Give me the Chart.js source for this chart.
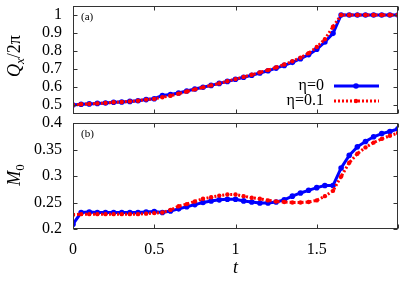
<!DOCTYPE html>
<html>
<head>
<meta charset="utf-8">
<script src="https://cdn.jsdelivr.net/npm/chart.js@4.4.1/dist/chart.umd.min.js"></script>
<style>
  html, body { margin: 0; padding: 0; background: #fff; }
  #wrap { position: relative; width: 407px; height: 285px; overflow: hidden; }
  canvas { position: absolute; left: 0; }
  #top { top: 0; }
  #bot { top: 115px; }
</style>
</head>
<body>
<div id="wrap">
  <canvas id="top" width="407" height="120"></canvas>
  <canvas id="bot" width="407" height="170"></canvas>
</div>
<script>
// time axis (t), one sample every 0.05
const tVals = [0, 0.05, 0.1, 0.15, 0.2, 0.25, 0.3, 0.35, 0.4, 0.45, 0.5, 0.55, 0.6, 0.65, 0.7,
  0.75, 0.8, 0.85, 0.9, 0.95, 1, 1.05, 1.1, 1.15, 1.2, 1.25, 1.3, 1.35, 1.4, 1.45, 1.5, 1.55,
  1.6, 1.65, 1.7, 1.75, 1.8, 1.85, 1.9, 1.95, 2];

// panel (a): Q_x / 2pi
const qEta0 = [0.500, 0.504, 0.506, 0.509, 0.511, 0.515, 0.517, 0.520, 0.524, 0.530, 0.535,
  0.553, 0.558, 0.567, 0.578, 0.589, 0.599, 0.609, 0.620, 0.631, 0.643, 0.654, 0.665, 0.678,
  0.690, 0.705, 0.720, 0.737, 0.757, 0.780, 0.810, 0.850, 0.898, 1, 1, 1, 1, 1, 1, 1, 1];
const qEta01 = [0.500, 0.504, 0.506, 0.509, 0.511, 0.515, 0.517, 0.520, 0.524, 0.530, 0.534,
  0.543, 0.551, 0.563, 0.575, 0.587, 0.598, 0.609, 0.620, 0.632, 0.644, 0.656, 0.668, 0.681,
  0.694, 0.709, 0.725, 0.743, 0.763, 0.788, 0.822, 0.865, 0.935, 1, 1, 1, 1, 1, 1, 1, 1];

// panel (b): M_0
const mEta0 = [0.209, 0.231, 0.232, 0.231, 0.231, 0.231, 0.231, 0.231, 0.231, 0.232, 0.233,
  0.231, 0.234, 0.238, 0.242, 0.246, 0.250, 0.253, 0.255, 0.256, 0.256, 0.253, 0.251, 0.249,
  0.249, 0.251, 0.255, 0.262, 0.268, 0.273, 0.278, 0.282, 0.282, 0.315, 0.339, 0.355, 0.365,
  0.374, 0.380, 0.384, 0.389];
const mEta01 = [0.227, 0.228, 0.228, 0.228, 0.228, 0.228, 0.228, 0.228, 0.228, 0.229, 0.230,
  0.231, 0.236, 0.243, 0.247, 0.252, 0.257, 0.260, 0.263, 0.265, 0.265, 0.262, 0.259, 0.257,
  0.254, 0.252, 0.251, 0.250, 0.250, 0.251, 0.254, 0.262, 0.272, 0.299, 0.325, 0.342, 0.354,
  0.363, 0.370, 0.376, 0.381];

const xTicks = [0, 0.5, 1, 1.5, 2];
const qTicks = [0.5, 0.6, 0.7, 0.8, 0.9, 1];
const mTicks = [0.2, 0.25, 0.3, 0.35, 0.4];
const seriesLabels = ['\u03b7=0', '\u03b7=0.1'];

const BLUE = '#0000ff';
const RED = '#ff0000';
const SERIF = '"Liberation Serif", "DejaVu Serif", serif';

Chart.defaults.font.family = SERIF;
Chart.defaults.font.size = 16;
Chart.defaults.color = '#000';

const toXY = vals => vals.map((v, i) => ({ x: tVals[i], y: v }));

function blueSet(vals) {
  return {
    label: seriesLabels[0], data: toXY(vals), order: 1,
    borderColor: BLUE, backgroundColor: BLUE, borderWidth: 3,
    pointRadius: 2.8, pointBorderWidth: 0, tension: 0
  };
}
function redSet(vals) {
  return {
    label: seriesLabels[1], data: toXY(vals), order: 0,
    borderColor: RED, backgroundColor: RED, borderWidth: 3, borderDash: [2, 2],
    pointRadius: 2.2, pointBorderWidth: 0, tension: 0
  };
}

// rotated multi-part text (italic symbol, subscript, plain)
function drawRotated(ctx, parts, cx, cy) {
  ctx.save();
  ctx.translate(cx, cy);
  ctx.rotate(-Math.PI / 2);
  let w = 0;
  parts.forEach(p => { ctx.font = p.font; w += ctx.measureText(p.text).width; });
  let x = -w / 2;
  ctx.textBaseline = 'alphabetic';
  ctx.fillStyle = '#000';
  parts.forEach(p => {
    ctx.font = p.font;
    ctx.fillText(p.text, x, p.dy || 0);
    x += ctx.measureText(p.text).width;
  });
  ctx.restore();
}

// gnuplot-style frame with inward ticks on all four sides, plus panel decorations
const framePlugin = {
  id: 'frame',
  afterDraw(chart, args, opts) {
    const { ctx, chartArea: a, scales } = chart;
    ctx.save();
    ctx.strokeStyle = '#333';
    ctx.lineWidth = 1;
    const L = Math.round(a.left) + 0.5, R = Math.round(a.right) - 0.5;
    const T = Math.round(a.top) + 0.5, B = Math.round(a.bottom) - 0.5;
    ctx.strokeRect(L, T, R - L, B - T);
    ctx.beginPath();
    xTicks.forEach(v => {
      const px = Math.round(scales.x.getPixelForValue(v)) + 0.5;
      ctx.moveTo(px, B); ctx.lineTo(px, B - 4);
      ctx.moveTo(px, T); ctx.lineTo(px, T + 4);
    });
    opts.yTicks.forEach(v => {
      const py = Math.round(scales.y.getPixelForValue(v)) + 0.5;
      ctx.moveTo(L, py); ctx.lineTo(L + 4, py);
      ctx.moveTo(R, py); ctx.lineTo(R - 4, py);
    });
    ctx.stroke();

    ctx.fillStyle = '#000';
    ctx.font = '11px ' + SERIF;
    ctx.textBaseline = 'middle';
    ctx.textAlign = 'left';
    ctx.fillText(opts.panel, a.left + 8, a.top + 11);

    drawRotated(ctx, opts.yTitle, opts.yTitleX, opts.yTitleY);

    if (opts.xTitle) {
      ctx.font = 'italic 18px ' + SERIF;
      ctx.textAlign = 'center';
      ctx.textBaseline = 'middle';
      ctx.fillText(opts.xTitle, scales.x.getPixelForValue(1), a.bottom + 39);
    }

    if (opts.legend) {
      const rows = [
        { label: seriesLabels[0], color: BLUE, dash: [], y: 86, r: 2.8 },
        { label: seriesLabels[1], color: RED, dash: [2, 2], y: 101, r: 2.2 }
      ];
      rows.forEach(row => {
        ctx.font = '16px ' + SERIF;
        ctx.textAlign = 'right';
        ctx.textBaseline = 'middle';
        ctx.fillStyle = '#000';
        ctx.fillText(row.label, 324, row.y);
        ctx.strokeStyle = row.color;
        ctx.lineWidth = 3;
        ctx.setLineDash(row.dash);
        ctx.beginPath();
        ctx.moveTo(334, row.y); ctx.lineTo(379, row.y);
        ctx.stroke();
        ctx.setLineDash([]);
        ctx.fillStyle = row.color;
        ctx.beginPath();
        ctx.arc(356, row.y, row.r, 0, Math.PI * 2);
        ctx.fill();
      });
    }
    ctx.restore();
  }
};

function noPad(s) {
  s.paddingTop = 0; s.paddingBottom = 0; s.paddingLeft = 0; s.paddingRight = 0;
}

function makeOptions(yMin, yMax, yTicks, bottomAxis, frameOpts) {
  return {
    responsive: false,
    animation: false,
    events: [],
    layout: { padding: { left: 0, right: 9, top: bottomAxis ? 8 : 6, bottom: 0 } },
    plugins: { legend: { display: false }, tooltip: { enabled: false }, frame: frameOpts },
    scales: {
      x: {
        type: 'linear', min: 0, max: 2,
        grid: { display: false, drawTicks: false }, border: { display: false },
        afterBuildTicks: s => { s.ticks = xTicks.map(v => ({ value: v })); },
        afterFit: s => { s.height = bottomAxis ? 56 : 6; noPad(s); },
        ticks: {
          display: bottomAxis, padding: 11, maxRotation: 0, autoSkip: false,
          callback: v => (v === 2 ? '' : String(v))
        }
      },
      y: {
        min: yMin, max: yMax,
        grid: { display: false, drawTicks: false }, border: { display: false },
        afterBuildTicks: s => { s.ticks = yTicks.map(v => ({ value: v })); },
        afterFit: s => { s.width = 73; noPad(s); },
        ticks: { padding: 11, autoSkip: false, callback: v => String(v) }
      }
    }
  };
}

new Chart(document.getElementById('top'), {
  type: 'line',
  data: { datasets: [blueSet(qEta0), redSet(qEta01)] },
  options: makeOptions(0.45, 1.05, qTicks, false, {
    yTicks: qTicks, panel: '(a)', legend: true,
    yTitleX: 20, yTitleY: 56,
    yTitle: [
      { text: 'Q', font: 'italic 18px ' + SERIF },
      { text: 'x', font: 'italic 13px ' + SERIF, dy: 4 },
      { text: '/2\u03c0', font: '18px ' + SERIF }
    ]
  }),
  plugins: [framePlugin]
});

new Chart(document.getElementById('bot'), {
  type: 'line',
  data: { datasets: [blueSet(mEta0), redSet(mEta01)] },
  options: makeOptions(0.2, 0.4, mTicks, true, {
    yTicks: mTicks, panel: '(b)', legend: false, xTitle: 't',
    yTitleX: 20, yTitleY: 60,
    yTitle: [
      { text: 'M', font: 'italic 18px ' + SERIF },
      { text: '0', font: '13px ' + SERIF, dy: 4 }
    ]
  }),
  plugins: [framePlugin]
});
</script>
</body>
</html>
